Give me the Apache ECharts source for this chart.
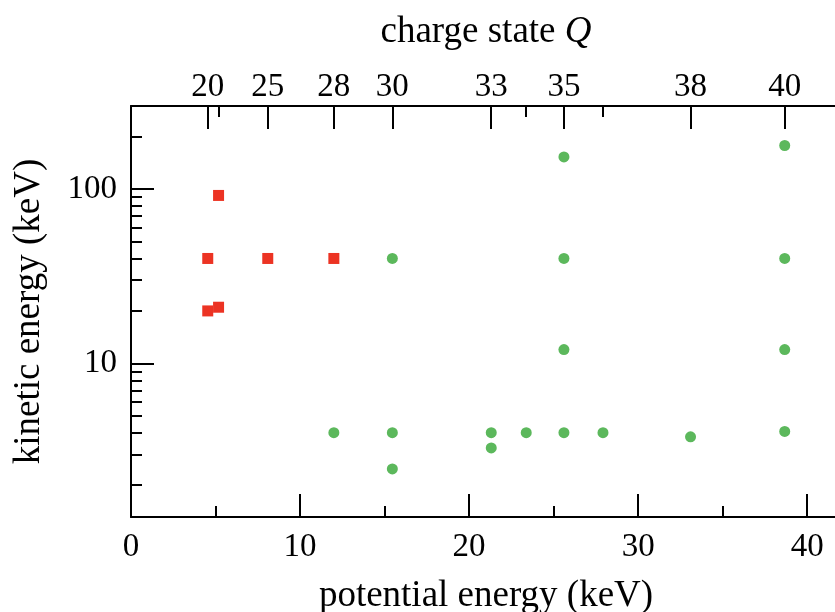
<!DOCTYPE html>
<html>
<head>
<meta charset="utf-8">
<script src="https://cdn.jsdelivr.net/npm/echarts@6/dist/echarts.min.js"></script>
<style>html,body{margin:0;padding:0;background:#fff}#c{width:835px;height:612px}</style>
</head>
<body>
<div id="c"></div>
<script>
// ---- data ----
const redX = [4.54, 4.54, 5.18, 5.18, 8.09, 12.0];
const redY = [20, 40, 92, 21, 40, 40];
const greenX = [12.0, 15.46, 15.46, 15.46, 21.31, 21.31, 23.38, 25.61, 25.61, 25.61, 25.61, 27.92, 33.1, 38.67, 38.67, 38.67, 38.67];
const greenY = [4.0, 40, 4.0, 2.48, 4.0, 3.27, 4.0, 153, 40, 12, 4.0, 4.0, 3.79, 178, 40, 12, 4.07];
// top axis: potential energy positions of charge states Q
const qMajorPos = [4.54, 8.09, 12.0, 15.46, 21.31, 25.61, 33.1, 38.67];
const qMajorLabel = ['20', '25', '28', '30', '33', '35', '38', '40'];
const qMinorPos = [5.18, 23.38, 27.92];
const xMajorTicks = [0, 10, 20, 30, 40];
const xMinorTicks = [5, 15, 25, 35];
const yMajorTicks = [10, 100];
const yMinorTicks = [2, 3, 4, 5, 6, 7, 8, 9, 20, 30, 40, 50, 60, 70, 80, 90, 200];
const xMin = 0, xMax = 42, yMin = 1.313, yMax = 300;

const FONT = 'Liberation Serif';
const lg = v => Math.log10(v);
const lineStyle = {color: '#000', width: 2};

const xBase = {type: 'value', min: xMin, max: xMax, gridIndex: 0, splitLine: {show: false}};
const yHelperBase = {type: 'value', min: lg(yMin), max: lg(yMax), position: 'left', splitLine: {show: false}, axisLine: {show: false, onZero: false}};

const qMap = {};
qMajorPos.forEach((p, i) => { qMap[p] = qMajorLabel[i]; });

const option = {
  animation: false,
  backgroundColor: '#fff',
  grid: {left: 131, top: 106, width: 710, height: 411, containLabel: false, outerBoundsMode: 'none'},
  xAxis: [
    Object.assign({}, xBase, {
      position: 'bottom',
      axisLine: {show: true, onZero: false, lineStyle},
      axisTick: {show: true, inside: true, length: 23, lineStyle, customValues: xMajorTicks},
      axisLabel: {show: true, customValues: xMajorTicks, margin: 14, color: '#000', fontFamily: FONT, fontSize: 33},
      name: 'potential energy (keV)', nameLocation: 'middle', nameGap: 61,
      nameTextStyle: {color: '#000', fontFamily: FONT, fontSize: 37}
    }),
    Object.assign({}, xBase, {
      position: 'bottom',
      axisLine: {show: false, onZero: false},
      axisTick: {show: true, inside: true, length: 11, lineStyle, customValues: xMinorTicks},
      axisLabel: {show: false}
    }),
    Object.assign({}, xBase, {
      position: 'top',
      axisLine: {show: true, onZero: false, lineStyle},
      axisTick: {show: true, inside: true, length: 23, lineStyle, customValues: qMajorPos},
      axisLabel: {show: true, customValues: qMajorPos, margin: 2, color: '#000', fontFamily: FONT, fontSize: 33,
        formatter: v => qMap[v] !== undefined ? qMap[v] : ''},
      name: 'charge state {i|Q}', nameLocation: 'middle', nameGap: 55,
      nameTextStyle: {color: '#000', fontFamily: FONT, fontSize: 37,
        rich: {i: {fontStyle: 'italic', fontFamily: FONT, fontSize: 37, color: '#000'}}}
    }),
    Object.assign({}, xBase, {
      position: 'top',
      axisLine: {show: false, onZero: false},
      axisTick: {show: true, inside: true, length: 11, lineStyle, customValues: qMinorPos},
      axisLabel: {show: false}
    })
  ],
  yAxis: [
    {
      type: 'log', logBase: 10, min: yMin, max: yMax, position: 'left',
      axisLine: {show: true, onZero: false, lineStyle},
      axisTick: {show: false}, axisLabel: {show: false}, splitLine: {show: false},
      name: 'kinetic energy (keV)', nameLocation: 'middle', nameGap: 83, nameRotate: 90,
      nameTextStyle: {color: '#000', fontFamily: FONT, fontSize: 37}
    },
    Object.assign({}, yHelperBase, {
      axisTick: {show: true, inside: true, length: 23, lineStyle, customValues: yMajorTicks.map(lg)},
      axisLabel: {show: true, customValues: yMajorTicks.map(lg), margin: 14, color: '#000', fontFamily: FONT, fontSize: 33,
        formatter: v => String(Math.round(Math.pow(10, v)))}
    }),
    Object.assign({}, yHelperBase, {
      axisTick: {show: true, inside: true, length: 11, lineStyle, customValues: yMinorTicks.map(lg)},
      axisLabel: {show: false}
    })
  ],
  series: [
    {
      type: 'scatter', xAxisIndex: 0, yAxisIndex: 0,
      symbol: 'rect', symbolSize: 11,
      itemStyle: {color: '#ec3323', opacity: 1},
      data: redX.map((x, i) => [x, redY[i]])
    },
    {
      type: 'scatter', xAxisIndex: 0, yAxisIndex: 0,
      symbol: 'circle', symbolSize: 11,
      itemStyle: {color: '#5cb85c', opacity: 1},
      data: greenX.map((x, i) => [x, greenY[i]])
    }
  ]
};

const chart = echarts.init(document.getElementById('c'), null, {renderer: 'canvas'});
chart.setOption(option);
</script>
</body>
</html>
